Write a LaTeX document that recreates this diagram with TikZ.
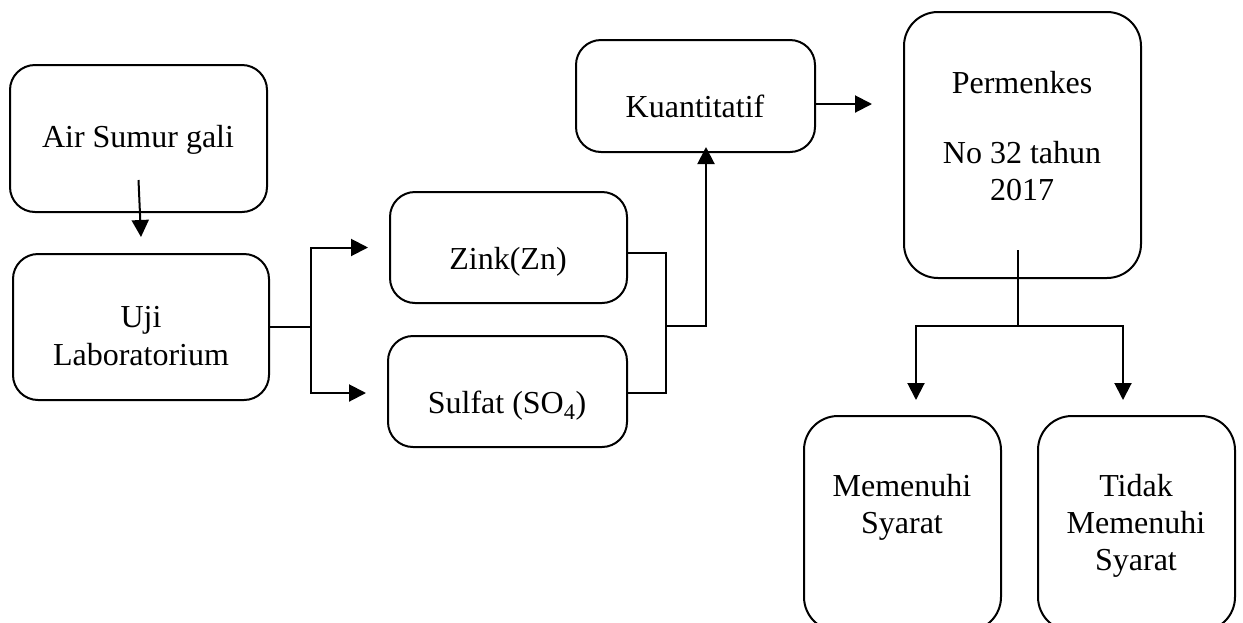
\documentclass[tikz,border=0pt]{standalone}
\usepackage{fontspec}
\setmainfont{Liberation Serif}
\usetikzlibrary{arrows.meta}
\begin{document}
\begin{tikzpicture}[x=1pt,y=-1pt,
  font=\fontsize{32}{37.5}\selectfont,
  box/.style={draw=black, line width=2pt, rectangle, rounded corners=25pt, inner sep=0pt, outer sep=0pt},
  bigbox/.style={box, rounded corners=34pt},
  txt/.style={anchor=base, inner sep=0pt, outer sep=0pt},
  link/.style={draw=black, line width=2pt},
  arr/.style={link, -{Triangle[length=17pt,width=17pt]}}]
\useasboundingbox (0,0) rectangle (1243,622);
\clip (0,0) rectangle (1243,622);
% boxes
\node[box, minimum width=257pt, minimum height=147pt] (air) at (138.5,138.5) {};
\node[box, minimum width=256pt, minimum height=146pt] (uji) at (141,327) {};
\node[box, minimum width=237pt, minimum height=111pt] (zink) at (508.5,247.5) {};
\node[box, minimum width=239pt, minimum height=111pt] (sulfat) at (507.5,391.5) {};
\node[box, minimum width=239pt, minimum height=112pt] (kuant) at (695.5,96) {};
\node[bigbox, minimum width=237pt, minimum height=266pt] (perm) at (1022.5,145) {};
\node[bigbox, minimum width=197pt, minimum height=215pt] (mem) at (902.5,523.5) {};
\node[bigbox, minimum width=197pt, minimum height=215pt] (tidak) at (1136.5,523.5) {};
% texts
\node[txt] (tair) at (138,147) {Air Sumur gali};
\node[txt] (tuji1) at (141,327) {Uji};
\node[txt] (tuji2) at (141,365) {Laboratorium};
\node[txt] (tzink) at (508,269) {Zink(Zn)};
\node[txt] (tsulf) at (507,413) {Sulfat (SO\textsubscript{4})};
\node[txt] (tkuant) at (695,117) {Kuantitatif};
\node[txt] (tperm1) at (1022,93) {Permenkes};
\node[txt] (tperm2) at (1022,163) {No 32 tahun};
\node[txt] (tperm3) at (1022,200) {2017};
\node[txt] (tmem1) at (902,496) {Memenuhi};
\node[txt] (tmem2) at (902,533) {Syarat};
\node[txt] (ttid1) at (1136,496) {Tidak};
\node[txt] (ttid2) at (1136,533) {Memenuhi};
\node[txt] (ttid3) at (1136,570) {Syarat};
% junction points
\coordinate (fork) at (311,327);
\coordinate (join) at (666,326);
\coordinate (split) at (1018,326);
% connectors
\draw[arr] ([yshift=32pt]air.south) -- ([yshift=17pt]uji.north);
\draw[link] (uji.east) -- (fork);
\draw[arr] (fork) |- ([xshift=-22pt]zink.west);
\draw[arr] (fork) |- ([xshift=-22pt,yshift=-1.5pt]sulfat.west);
\draw[link] ([yshift=-5.5pt]zink.east) -| (join) |- ([yshift=-1.5pt]sulfat.east);
\draw[arr] (join) -| ([xshift=10.5pt,yshift=5pt]kuant.south);
\draw[arr, shorten >=32pt] ([yshift=-8pt]kuant.east) -- ([yshift=-8pt]kuant.east -| perm.west);
\draw[link] ([xshift=-4.5pt,yshift=28pt]perm.south) -- (split);
\draw[arr] (split) -| ([xshift=13.5pt,yshift=16pt]mem.north);
\draw[arr] (split) -| ([xshift=-13.5pt,yshift=16pt]tidak.north);
\end{tikzpicture}
\end{document}
